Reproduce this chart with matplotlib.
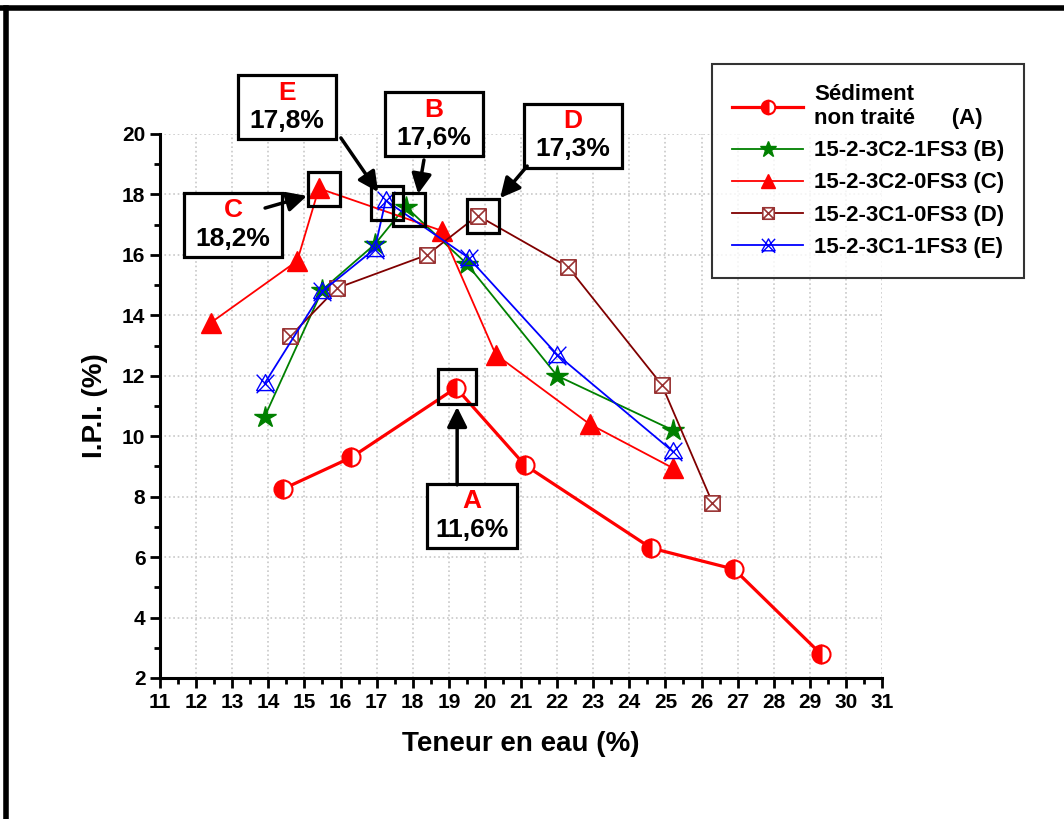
import matplotlib
matplotlib.use('Agg')
import matplotlib.pyplot as plt
from matplotlib.path import Path
from matplotlib.patches import Rectangle
from matplotlib.lines import Line2D
import numpy as np

plt.rcParams['font.family'] = ['Liberation Sans', 'DejaVu Sans']
plt.rcParams['font.weight'] = 'bold'

# data
x_a = [14.4, 16.3, 19.2, 21.1, 24.6, 26.9, 29.3]
y_a = [8.25, 9.3, 11.6, 9.05, 6.3, 5.6, 2.8]

x_b = [13.9, 15.5, 16.95, 17.8, 19.5, 22.0, 25.2]
y_b = [10.65, 14.85, 16.35, 17.6, 15.7, 12.0, 10.2]

x_c = [12.4, 14.8, 15.4, 18.8, 20.3, 22.9, 25.2]
y_c = [13.75, 15.8, 18.2, 16.8, 12.7, 10.4, 8.95]

x_d = [14.6, 15.9, 18.4, 19.8, 22.3, 24.9, 26.3]
y_d = [13.3, 14.9, 16.0, 17.3, 15.6, 11.7, 7.8]

x_e = [13.9, 15.5, 16.95, 17.25, 19.55, 22.0, 25.2]
y_e = [11.75, 14.8, 16.2, 17.8, 15.9, 12.7, 9.5]

labels = ['Sédiment\nnon traité      (A)', '15-2-3C2-1FS3 (B)', '15-2-3C2-0FS3 (C)',
          '15-2-3C1-0FS3 (D)', '15-2-3C1-1FS3 (E)']

# peak annotations: letter, value text, highlighted point, text box centre, arrow start/end
ann_letters = ['A', 'C', 'E', 'B', 'D']
ann_values = ['11,6%', '18,2%', '17,8%', '17,6%', '17,3%']
ann_points = [(19.23, 11.63), (15.54, 18.18), (17.29, 17.72), (17.90, 17.49), (19.95, 17.29)]
ann_boxes = [(19.64, 7.36), (13.02, 16.99), (14.52, 20.89), (18.59, 20.33), (22.44, 19.94)]
ann_tails = [(19.23, 8.39), (13.91, 17.55), (16.01, 19.87), (18.31, 19.14), (21.17, 18.94)]
ann_heads = [(19.23, 10.97), (15.07, 17.95), (17.04, 18.08), (18.15, 18.02), (20.42, 17.88)]

# custom markers
sq_x = Path([(-1, -1), (1, -1), (1, 1), (-1, 1), (-1, -1), (-1, -1), (1, 1), (-1, 1), (1, -1)],
            [Path.MOVETO, Path.LINETO, Path.LINETO, Path.LINETO, Path.CLOSEPOLY,
             Path.MOVETO, Path.LINETO, Path.MOVETO, Path.LINETO])
tri_x = Path([(-1, -0.8), (1, -0.8), (0, 1), (-1, -0.8), (-1, 1), (1, -1.1), (1, 1), (-1, -1.1)],
             [Path.MOVETO, Path.LINETO, Path.LINETO, Path.CLOSEPOLY,
              Path.MOVETO, Path.LINETO, Path.MOVETO, Path.LINETO])

fig = plt.figure(figsize=(10.64, 8.19), dpi=100)
ax = fig.add_axes([0.1504, 0.1722, 0.6786, 0.6642])

ax.plot(x_a, y_a, color='red', lw=2.3, marker='o', ms=13, fillstyle='left',
        markerfacecolor='red', markerfacecoloralt='white', markeredgecolor='red',
        markeredgewidth=1.5, label=labels[0], zorder=5)
ax.plot(x_b, y_b, color='green', lw=1.3, marker='*', ms=16, markeredgecolor='green',
        label=labels[1], zorder=4)
ax.plot(x_c, y_c, color='red', lw=1.3, marker='^', ms=14, markeredgecolor='red',
        label=labels[2], zorder=4)
ax.plot(x_d, y_d, color='#800000', lw=1.3, marker=sq_x, ms=11, markerfacecolor='white',
        markeredgecolor='#993333', markeredgewidth=1.2, label=labels[3], zorder=4)
ax.plot(x_e, y_e, color='blue', lw=1.3, marker=tri_x, ms=14, markerfacecolor='none',
        markeredgecolor='blue', markeredgewidth=1.0, label=labels[4], zorder=4)

ax.set_xlim(11, 31)
ax.set_ylim(2, 20)
ax.set_xticks(np.arange(11, 32, 1))
ax.set_xticks(np.arange(11.5, 31, 1), minor=True)
ax.set_yticks(np.arange(2, 21, 2))
ax.set_yticks(np.arange(3, 20, 2), minor=True)
ax.tick_params(which='major', direction='out', length=7, width=2, labelsize=15)
ax.tick_params(which='minor', direction='out', length=4, width=2)
for lab in ax.get_xticklabels() + ax.get_yticklabels():
    lab.set_fontweight('bold')
ax.spines['top'].set_visible(False)
ax.spines['right'].set_visible(False)
ax.spines['left'].set_linewidth(2.2)
ax.spines['bottom'].set_linewidth(2.2)
ax.grid(True, which='major', linestyle=':', color='#c8c8c8', lw=1.2)
ax.set_axisbelow(True)

ax.set_xlabel('Teneur en eau (%)', fontsize=20, fontweight='bold', labelpad=14)
ax.set_ylabel('I.P.I. (%)', fontsize=20, fontweight='bold', labelpad=10)

for i in range(len(ann_letters)):
    px, py = ann_points[i]
    w, h = (1.05, 1.16) if i == 0 else (0.89, 1.1)
    ax.add_patch(Rectangle((px - w / 2, py - h / 2), w, h, fill=False, ec='black', lw=2.3,
                           clip_on=False, zorder=6))
    bx, by = ann_boxes[i]
    bw = 2.5 if i == 0 else 2.72
    bh = 2.1
    ax.add_patch(Rectangle((bx - bw / 2, by - bh / 2), bw, bh, fc='white', ec='black', lw=2.3,
                           clip_on=False, zorder=6))
    ax.text(bx, by + 0.48, ann_letters[i], color='red', fontsize=19, fontweight='bold',
            ha='center', va='center', zorder=7, clip_on=False)
    ax.text(bx, by - 0.45, ann_values[i], color='black', fontsize=19, fontweight='bold',
            ha='center', va='center', zorder=7, clip_on=False)
    ax.annotate('', xy=ann_heads[i], xytext=ann_tails[i],
                arrowprops=dict(arrowstyle='-|>', color='black', lw=2.5, mutation_scale=30,
                                shrinkA=0, shrinkB=0), zorder=7, annotation_clip=False)

leg = fig.legend(loc='upper left', bbox_to_anchor=(712 / 1064, 1 - 64 / 819),
                 prop={'weight': 'bold', 'size': 16}, frameon=True, fancybox=False,
                 edgecolor='black', handlelength=3.2, labelspacing=0.5, borderpad=0.9,
                 handletextpad=0.5, markerscale=0.75, borderaxespad=0)
leg.get_frame().set_linewidth(1.5)

# outer frame (top and left edges visible)
fig.add_artist(Line2D([0, 1], [1 - 7.5 / 819, 1 - 7.5 / 819], color='black', lw=4,
                      transform=fig.transFigure))
fig.add_artist(Line2D([5.5 / 1064, 5.5 / 1064], [0, 1 - 7.5 / 819], color='black', lw=4,
                      transform=fig.transFigure))

fig.savefig('out.png', dpi=100)
